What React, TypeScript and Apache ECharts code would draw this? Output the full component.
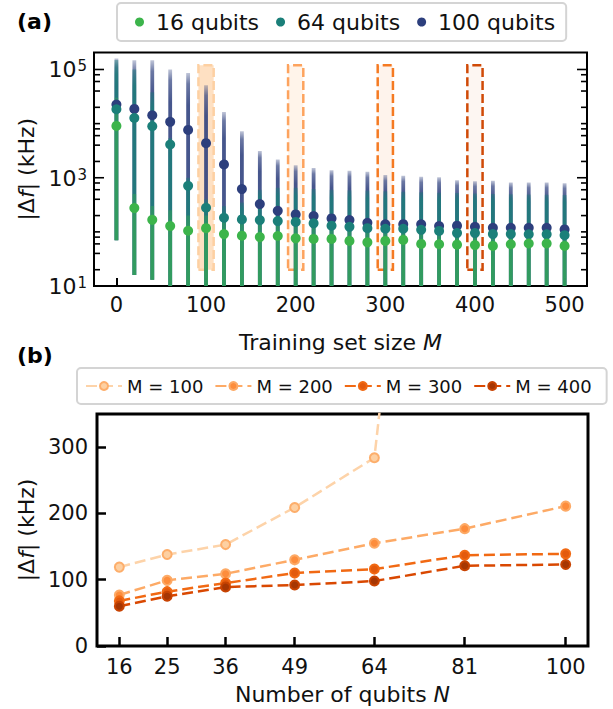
import React, { useEffect, useRef } from 'react';
import * as echarts from 'echarts';

const FONT = '"DejaVu Sans", sans-serif';
const TXT = '#111';

// ---------- Panel (a) data ----------
const trainingSizes = [0, 20, 40, 60, 80, 100, 120, 140, 160, 180, 200, 220, 240, 260, 280, 300, 320, 340, 360, 380, 400, 420, 440, 460, 480, 500];
const median16 = [9070, 275, 167, 128, 105, 117, 91, 85, 80, 84, 76, 74, 74, 68, 64, 68, 71, 60, 59, 58, 57, 55, 59, 61, 61, 55];
const median64 = [18400, 12700, 8950, 4110, 710, 279, 182, 170, 165, 158, 153, 144, 130, 124, 117, 114, 114, 109, 104, 95, 95, 91, 91, 90, 90, 87];
const median100 = [22500, 18700, 14300, 10800, 7660, 4350, 1760, 617, 326, 245, 210, 196, 177, 165, 147, 138, 139, 138, 128, 130, 124, 119, 119, 119, 119, 111];
// visible extent of each spread of single-run errors
const top16 = [30000, 500, 300, 250, 200, 200, 150, 140, 135, 140, 125, 120, 120, 115, 110, 115, 115, 100, 100, 100, 95, 92, 98, 100, 100, 92];
const top64 = [150000, 100000, 38000, 5400, 1000, 400, 300, 350, 600, 650, 650, 620, 600, 590, 580, 560, 550, 540, 530, 520, 510, 500, 495, 490, 485, 480];
const top100 = [160000, 148000, 148000, 100000, 86000, 51000, 16400, 7200, 3130, 2180, 1700, 1520, 1380, 1340, 1285, 1120, 1085, 1040, 1020, 900, 865, 880, 820, 820, 820, 795];
const columnLow = [70, 16, 13, 9, 9, 9, 9, 9, 9, 9, 9, 9, 9, 9, 9, 9, 9, 9, 9, 9, 9, 9, 9, 9, 9, 9];

const highlightM = [100, 200, 300, 400];
const highlightLow = 20;
const highlightHigh = 120000;

const xTicksA = [0, 100, 200, 300, 400, 500];
const yMajorA = [10, 1000, 100000];
const yMinorA = [20, 40, 60, 80, 100, 200, 400, 600, 800, 2000, 4000, 6000, 8000, 10000, 20000, 40000, 60000, 80000];

// ---------- Panel (b) data ----------
const qubitCounts = [16, 25, 36, 49, 64, 81, 100];
const errM100 = [119, 138, 153, 209, 284, 1500, 4400];
const errM200 = [77, 99, 109, 130, 155, 177, 211];
const errM300 = [68, 82, 95, 110, 116, 137, 139];
const errM400 = [60, 75, 89, 92, 98, 121, 123];
const yTicksB = [0, 100, 200, 300];

const C16 = '#3cb44b';
const C64 = '#1b7f79';
const C100 = '#2d3f7d';

const orange = {
  m100: { line: '#fdd3a9', fill: '#fdd0a2', edge: '#fdae6b' },
  m200: { line: '#fdaa66', fill: '#fd8d3c', edge: '#fdaa66' },
  m300: { line: '#f16913', fill: '#e35a0d', edge: '#f16913' },
  m400: { line: '#d94801', fill: '#a63603', edge: '#c84302' },
};
const boxStyles = [
  { color: 'rgba(253,208,162,0.65)', borderColor: '#fdd0a2' },
  { color: 'rgba(253,174,107,0.14)', borderColor: '#fda35e' },
  { color: 'rgba(241,105,19,0.08)', borderColor: '#f57a22' },
  { color: 'rgba(217,72,1,0.05)', borderColor: '#d04a07' },
];

const X_MIN_A = -25;
const X_MAX_A = 525;

function rgba(hex: string, a: number) {
  const n = parseInt(hex.slice(1), 16);
  return `rgba(${(n >> 16) & 255},${(n >> 8) & 255},${n & 255},${a})`;
}

function columnSeries(color: string, tops: number[], stops: [number, number][]) {
  return {
    type: 'custom',
    xAxisIndex: 0,
    yAxisIndex: 0,
    clip: true,
    silent: true,
    data: trainingSizes.map((m, i) => [m, columnLow[i], tops[i]]),
    encode: { x: 0, y: [1, 2] },
    renderItem: (_p: any, api: any) => {
      const a = api.coord([api.value(0), api.value(1)]);
      const b = api.coord([api.value(0), api.value(2)]);
      const w = 3.8;
      return {
        type: 'rect',
        shape: { x: a[0] - w / 2, y: b[1], width: w, height: a[1] - b[1] },
        style: {
          fill: new echarts.graphic.LinearGradient(0, 0, 0, 1, stops.map(([o, al]) => ({ offset: o, color: rgba(color, al) }))),
        },
      };
    },
  };
}

function tickSeries(values: number[], len: number) {
  return {
    type: 'custom',
    xAxisIndex: 0,
    yAxisIndex: 0,
    silent: true,
    clip: false,
    z: 5,
    data: values.map((v) => [X_MIN_A, v]),
    encode: { x: 0, y: 1 },
    renderItem: (_p: any, api: any) => {
      const l = api.coord([X_MIN_A, api.value(1)]);
      const r = api.coord([X_MAX_A, api.value(1)]);
      return {
        type: 'group',
        children: [
          { type: 'line', shape: { x1: l[0], y1: l[1], x2: l[0] + len, y2: l[1] }, style: { stroke: '#000', lineWidth: 1.6 } },
          { type: 'line', shape: { x1: r[0] - len, y1: r[1], x2: r[0], y2: r[1] }, style: { stroke: '#000', lineWidth: 1.6 } },
        ],
      };
    },
  };
}

function medianSeries(name: string, color: string, values: number[]) {
  return {
    type: 'scatter',
    name,
    xAxisIndex: 0,
    yAxisIndex: 0,
    symbolSize: 10,
    data: trainingSizes.map((m, i) => [m, values[i]]),
    itemStyle: { color, opacity: 1 },
    z: 3,
  };
}

function errorLine(name: string, values: number[], st: { line: string; fill: string; edge: string }) {
  return {
    type: 'line',
    name,
    xAxisIndex: 1,
    yAxisIndex: 1,
    data: qubitCounts.map((n, i) => [n, values[i]]),
    symbol: 'circle',
    symbolSize: 9,
    clip: true,
    lineStyle: { color: st.line, width: 2.5, type: [11, 5] },
    itemStyle: { color: st.fill, borderColor: st.edge, borderWidth: 2 },
  };
}

const axisNameStyle = {
  fontSize: 22,
  fontFamily: FONT,
  color: TXT,
  rich: { i: { fontStyle: 'italic', fontSize: 22, fontFamily: FONT, color: TXT } },
};

export default function App() {
  const ref = useRef<HTMLDivElement>(null);
  useEffect(() => {
    if (!ref.current) return;
    const chart = echarts.init(ref.current, undefined, { renderer: 'svg' });
    const option: any = {
      animation: false,
      backgroundColor: '#fff',
      textStyle: { fontFamily: FONT },
      graphic: [
        { type: 'text', left: 17, top: 10, style: { text: '(a)', font: `bold 22px ${FONT}`, fill: '#000' } },
        { type: 'text', left: 17, top: 344, style: { text: '(b)', font: `bold 22px ${FONT}`, fill: '#000' } },
      ],
      legend: [
        {
          data: ['16 qubits', '64 qubits', '100 qubits'],
          left: 117,
          top: 3,
          width: 490,
          orient: 'horizontal',
          padding: [8, 11, 8, 18],
          itemGap: 17,
          itemWidth: 23,
          itemHeight: 9,
          icon: 'circle',
          borderColor: '#d4d4d4',
          borderWidth: 2,
          borderRadius: 4,
          backgroundColor: '#fff',
          textStyle: { fontSize: 22, fontFamily: FONT, color: TXT },
        },
        {
          data: ['M = 100', 'M = 200', 'M = 300', 'M = 400'],
          left: 77,
          top: 368,
          width: 560,
          orient: 'horizontal',
          padding: [9, 15, 9, 8],
          itemGap: 11,
          itemWidth: 36,
          itemHeight: 10,
          borderColor: '#d4d4d4',
          borderWidth: 2,
          borderRadius: 4,
          backgroundColor: '#fff',
          textStyle: { fontSize: 18, fontFamily: FONT, color: TXT },
        },
      ],
      grid: [
        { left: 94, top: 52.5, width: 493, height: 233.5, show: true, borderColor: '#000', borderWidth: 2, backgroundColor: 'transparent' },
        { left: 97, top: 414, width: 491, height: 232, show: true, borderColor: '#000', borderWidth: 3, backgroundColor: 'transparent' },
      ],
      xAxis: [
        {
          gridIndex: 0,
          type: 'value',
          min: X_MIN_A,
          max: X_MAX_A,
          axisLine: { show: false },
          splitLine: { show: false },
          axisTick: { show: true, inside: true, length: 8, customValues: xTicksA, lineStyle: { color: '#000', width: 2 } },
          axisLabel: { customValues: xTicksA, fontSize: 21, fontFamily: FONT, color: TXT, margin: 8 },
          name: 'Training set size {i|M}',
          nameLocation: 'middle',
          nameGap: 45,
          nameTextStyle: axisNameStyle,
        },
        {
          gridIndex: 1,
          type: 'value',
          min: 11.8,
          max: 104.2,
          axisLine: { show: false },
          splitLine: { show: false },
          axisTick: { show: true, inside: true, length: 9, customValues: qubitCounts, lineStyle: { color: '#000', width: 2.5 } },
          axisLabel: { customValues: qubitCounts, fontSize: 21, fontFamily: FONT, color: TXT, margin: 10 },
          name: 'Number of qubits {i|N}',
          nameLocation: 'middle',
          nameGap: 37,
          nameTextStyle: axisNameStyle,
        },
      ],
      yAxis: [
        {
          gridIndex: 0,
          type: 'log',
          logBase: 10,
          min: 10,
          max: 206000,
          axisLine: { show: false },
          splitLine: { show: false },
          axisTick: { show: false },
          axisLabel: {
            margin: 7,
            showMaxLabel: false,
            formatter: (v: number) => {
              const lv = Math.log10(v);
              const e = Math.round(lv);
              if (Math.abs(lv - e) > 1e-6) return '';
              if (yMajorA.indexOf(Math.pow(10, e)) < 0) return '';
              return `{b|10}{s|${e}}`;
            },
            rich: {
              b: { fontSize: 22, fontFamily: FONT, color: TXT, lineHeight: 23, verticalAlign: 'bottom' },
              s: { fontSize: 15, fontFamily: FONT, color: TXT, lineHeight: 15, verticalAlign: 'top', padding: [1, 0, 0, 1] },
            },
          },
          name: '|Δ{i|f}| (kHz)',
          nameLocation: 'middle',
          nameGap: 55,
          nameRotate: 90,
          nameTextStyle: axisNameStyle,
        },
        {
          gridIndex: 1,
          type: 'value',
          min: 0,
          max: 350,
          axisLine: { show: false },
          splitLine: { show: false },
          axisTick: { show: true, inside: true, length: 9, customValues: yTicksB, lineStyle: { color: '#000', width: 2.5 } },
          axisLabel: { customValues: yTicksB, fontSize: 21, fontFamily: FONT, color: TXT, margin: 9 },
          name: '|Δ{i|f}| (kHz)',
          nameLocation: 'middle',
          nameGap: 59,
          nameRotate: 90,
          nameTextStyle: axisNameStyle,
        },
      ],
      series: [
        {
          type: 'scatter',
          xAxisIndex: 0,
          yAxisIndex: 0,
          data: [],
          silent: true,
          markArea: {
            silent: true,
            data: highlightM.map((m, i) => [
              {
                xAxis: m - 8.5,
                yAxis: highlightLow,
                itemStyle: { color: boxStyles[i].color, borderColor: boxStyles[i].borderColor, borderWidth: 2.5, borderType: [9, 4] },
              },
              { xAxis: m + 8.5, yAxis: highlightHigh },
            ]),
          },
        },
        columnSeries(C100, top100, [[0, 0.3], [0.05, 0.7], [0.15, 0.88], [1, 0.88]]),
        columnSeries(C64, top64, [[0, 0.4], [0.08, 0.82], [1, 0.82]]),
        columnSeries(C16, top16, [[0, 0.35], [0.3, 0.55], [1, 0.6]]),
        medianSeries('100 qubits', C100, median100),
        medianSeries('64 qubits', C64, median64),
        medianSeries('16 qubits', C16, median16),
        tickSeries(yMajorA, 10),
        tickSeries(yMinorA, 6),
        errorLine('M = 100', errM100, orange.m100),
        errorLine('M = 200', errM200, orange.m200),
        errorLine('M = 300', errM300, orange.m300),
        errorLine('M = 400', errM400, orange.m400),
      ],
    };
    chart.setOption(option);
    return () => chart.dispose();
  }, []);
  return <div ref={ref} style={{ position: 'fixed', left: 0, top: 0, width: 613, height: 709 }} />;
}
